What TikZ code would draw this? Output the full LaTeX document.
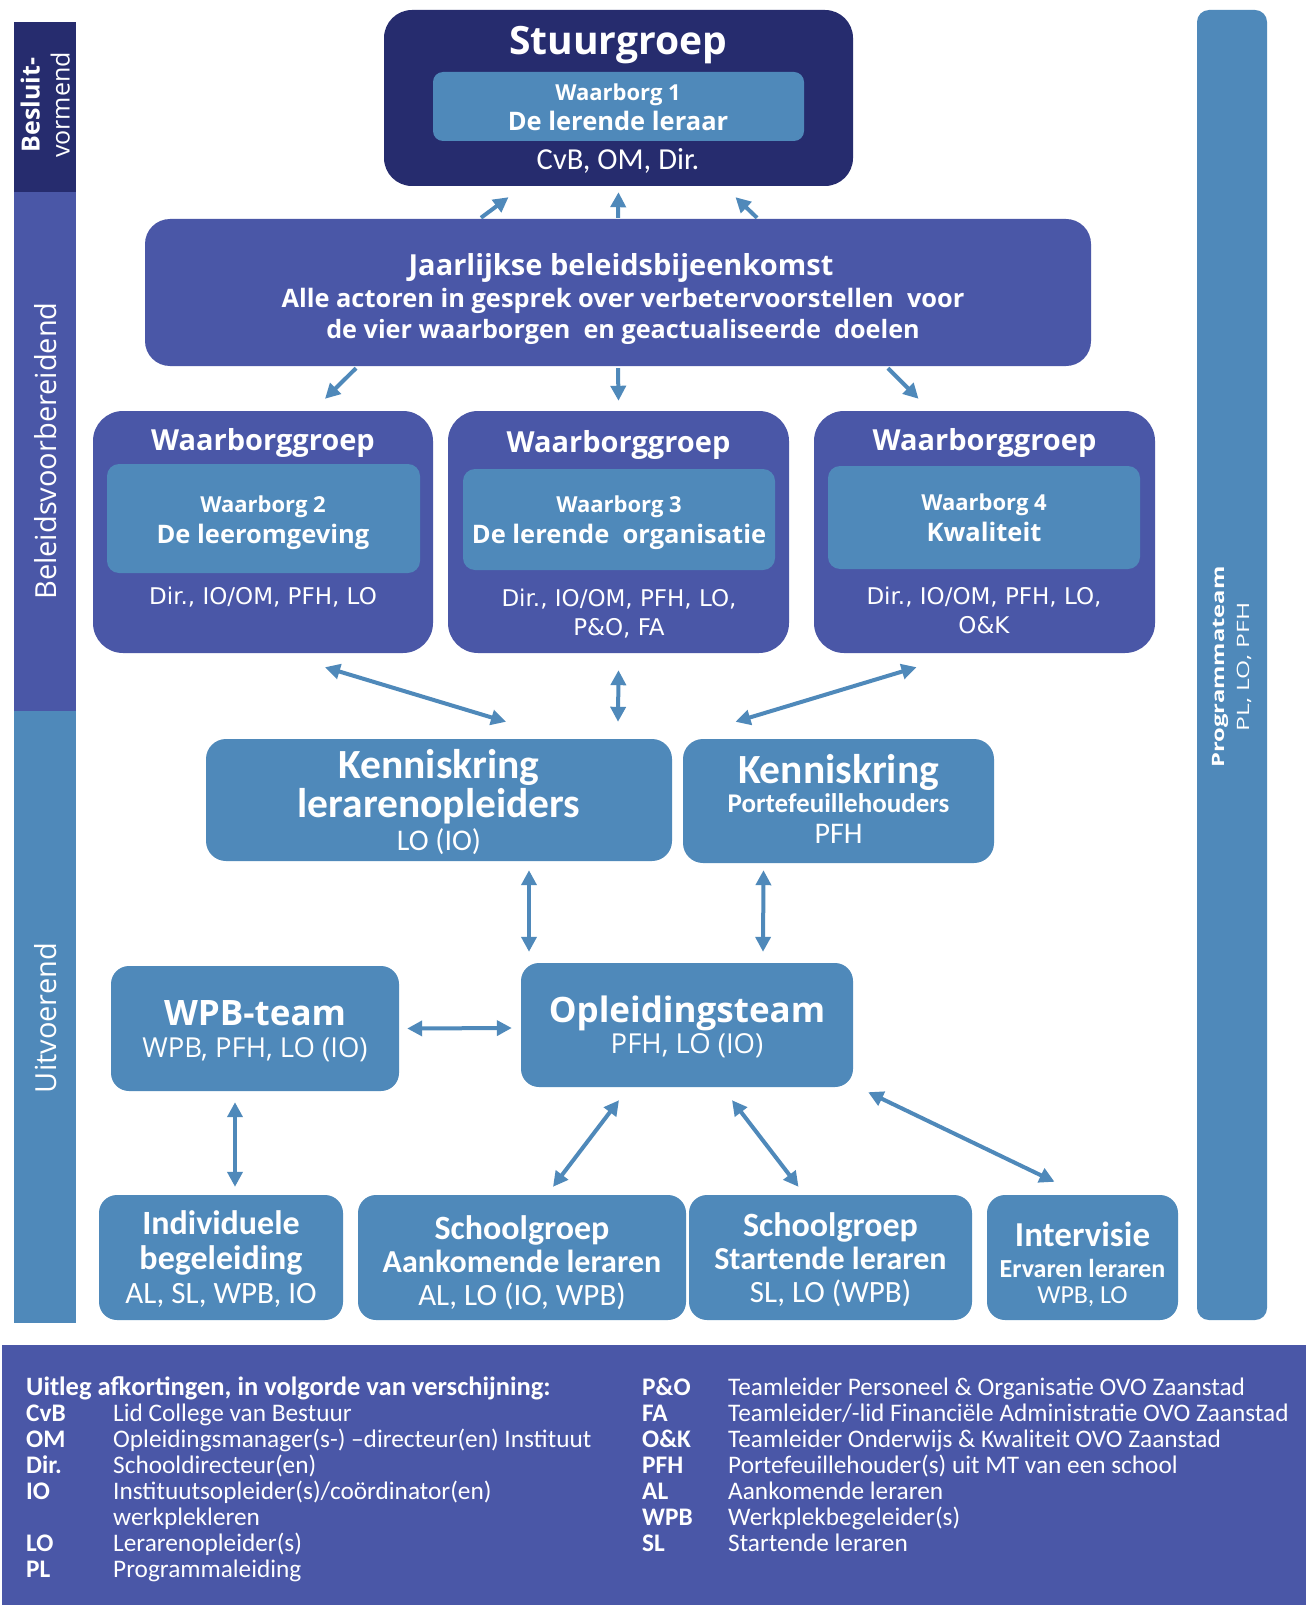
\documentclass[tikz,border=0pt]{standalone}
\usepackage{fontspec}
\setmainfont{Open Sans}
\newfontfamily\cf{Carlito}
\newfontfamily\dv{DejaVu Sans}
\usetikzlibrary{arrows.meta,calc}
\definecolor{navy}{RGB}{38,44,110}
\definecolor{mblue}{RGB}{74,87,167}
\definecolor{lblue}{RGB}{79,137,186}
\newcommand\fz[1]{\fontsize{#1}{#1}\selectfont}
\begin{document}
\begin{tikzpicture}[x=1pt,y=-1pt,
  box/.style={draw=none, rounded corners=#1, inner sep=0pt},
  box/.default=18pt,
  w/.style={text=white, inner sep=0pt, text depth=0pt, align=center},
  leg/.style={text=white, inner sep=0pt, anchor=west, text height=16pt, text depth=0pt, font=\cf\fz{25.3}},
  legb/.style={leg, font=\cf\fz{25.3}\bfseries},
  tipx/.tip={Triangle[length=15pt,width=15pt]},
  one/.style={draw=lblue, line width=4pt, -tipx},
  two/.style={draw=lblue, line width=4pt, tipx-tipx}
]
\useasboundingbox (0,0) rectangle (1306,1605);
\fill[white] (0,0) rectangle (1306,1605);

% left phase bar
\node[fill=navy, minimum width=62pt, minimum height=170pt, inner sep=0pt] (barB) at (45,107) {};
\node[fill=mblue, minimum width=62pt, minimum height=519pt, inner sep=0pt] (barP) at (45,451.5) {};
\node[fill=lblue, minimum width=62pt, minimum height=612pt, inner sep=0pt] (barU) at (45,1017) {};
\node[w, rotate=90, font=\fz{25}\bfseries, text height=17pt] (tB1) at (31,105) {Besluit-};
\node[w, rotate=90, font=\fz{25}, text height=17pt] (tB2) at (61,105) {vormend};
\node[w, rotate=90, font=\fz{29}, text height=21pt] (tP) at (46,451) {Beleidsvoorbereidend};
\node[w, rotate=90, font=\fz{29}, text height=21pt] (tU) at (46,1018) {Uitvoerend};

% right programme bar
\node[box=12pt, fill=lblue, minimum width=70pt, minimum height=1310pt] (prog) at (1232,665) {};
\node[w, rotate=90, font=\fz{17}\bfseries, text height=12pt] (tProg1) at (1218,667) {\scalebox{1.4}[1]{Programmateam}};
\node[w, rotate=90, font=\fz{17}, text height=12pt] (tProg2) at (1243,667) {\scalebox{1.45}[1]{PL, LO, PFH}};

% Stuurgroep
\node[box=28pt, fill=navy, minimum width=469pt, minimum height=176pt] (stuur) at (618.5,98) {};
\node[box=10pt, fill=lblue, minimum width=371pt, minimum height=69pt] (stuurin) at (618.5,106.5) {};
\node[w, font=\fz{39}\bfseries, text height=28pt] (tStuur) at (618,41) {Stuurgroep};
\node[w, font=\fz{22}\bfseries, text height=15pt] (tW1a) at (618,93) {Waarborg 1};
\node[w, font=\fz{25.5}\bfseries, text height=18pt] (tW1b) at (618,122) {De lerende leraar};
\node[w, font=\cf\fz{30.5}, text height=20pt] (tW1c) at (618,160) {CvB, OM, Dir.};

% Jaarlijkse beleidsbijeenkomst
\node[box=25pt, fill=mblue, minimum width=946pt, minimum height=147pt] (jaar) at (618,292.5) {};
\node[w, font=\fz{29}\bfseries, text height=21pt] (tJ1) at (621,265) {Jaarlijkse beleidsbijeenkomst};
\node[w, font=\fz{25.4}\bfseries, text height=18pt] (tJ2) at (623,298) {Alle actoren in gesprek over verbetervoorstellen\ \ voor};
\node[w, font=\fz{25.2}\bfseries, text height=18pt] (tJ3) at (623,329) {de vier waarborgen\ \ en geactualiseerde\ \ doelen};

% Waarborggroepen
\node[box=30pt, fill=mblue, minimum width=340pt, minimum height=242pt] (wg1) at (263,532) {};
\node[box=30pt, fill=mblue, minimum width=341pt, minimum height=242pt] (wg2) at (618.5,532) {};
\node[box=30pt, fill=mblue, minimum width=341pt, minimum height=242pt] (wg3) at (984.5,532) {};
\node[box=12pt, fill=lblue, minimum width=313pt, minimum height=109pt] (in1) at (263.5,518.5) {};
\node[box=12pt, fill=lblue, minimum width=312pt, minimum height=101pt] (in2) at (619,519.5) {};
\node[box=12pt, fill=lblue, minimum width=312pt, minimum height=103pt] (in3) at (984,517.5) {};
\node[w, font=\fz{29}\bfseries, text height=21pt] (tG1) at (263,440) {Waarborggroep};
\node[w, font=\fz{29}\bfseries, text height=21pt] (tG2) at (618.5,442) {Waarborggroep};
\node[w, font=\fz{29}\bfseries, text height=21pt] (tG3) at (984.5,440) {Waarborggroep};
\node[w, font=\fz{22}\bfseries, text height=15pt] (tW2a) at (263,505) {Waarborg 2};
\node[w, font=\fz{25.5}\bfseries, text height=18pt] (tW2b) at (263,534) {De leeromgeving};
\node[w, font=\fz{22}\bfseries, text height=15pt] (tW3a) at (619,505) {Waarborg 3};
\node[w, font=\fz{25.5}\bfseries, text height=18pt] (tW3b) at (619,534) {De lerende\ \ organisatie};
\node[w, font=\fz{22}\bfseries, text height=15pt] (tW4a) at (984,503) {Waarborg 4};
\node[w, font=\fz{25.5}\bfseries, text height=18pt] (tW4b) at (984,532) {Kwaliteit};
\node[w, font=\dv\fz{23}, text height=16pt] (tM2) at (263,596) {Dir., IO/OM, PFH, LO};
\node[w, font=\dv\fz{23}, text height=16pt] (tM3a) at (619,598) {Dir., IO/OM, PFH, LO,};
\node[w, font=\dv\fz{23}, text height=16pt] (tM3b) at (619,627) {P\&O, FA};
\node[w, font=\dv\fz{23}, text height=16pt] (tM4a) at (984,596) {Dir., IO/OM, PFH, LO,};
\node[w, font=\dv\fz{23}, text height=16pt] (tM4b) at (984,625) {O\&K};

% Kenniskringen
\node[box=20pt, fill=lblue, minimum width=466pt, minimum height=122pt] (kl) at (439,800) {};
\node[box=20pt, fill=lblue, minimum width=311pt, minimum height=124pt] (kp) at (838.5,801) {};
\node[w, font=\cf\fz{41.5}\bfseries, text height=27pt] (tK1) at (439,765) {Kenniskring};
\node[w, font=\cf\fz{41.5}\bfseries, text height=27pt] (tK2) at (439,804) {lerarenopleiders};
\node[w, font=\cf\fz{30}, text height=19pt] (tK3) at (439,841) {LO (IO)};
\node[w, font=\cf\fz{41.5}\bfseries, text height=27pt] (tK4) at (838.5,770) {Kenniskring};
\node[w, font=\cf\fz{27}\bfseries, text height=17pt] (tK5) at (838.5,804) {Portefeuillehouders};
\node[w, font=\cf\fz{30}, text height=19pt] (tK6) at (838.5,834) {PFH};

% WPB-team and Opleidingsteam
\node[box=18pt, fill=lblue, minimum width=288pt, minimum height=125pt] (wpb) at (255,1028.5) {};
\node[box=18pt, fill=lblue, minimum width=332pt, minimum height=124pt] (opl) at (687,1025) {};
\node[w, font=\fz{35}\bfseries, text height=25pt] (tWp1) at (255,1013) {WPB-team};
\node[w, font=\fz{27.5}, text height=19pt] (tWp2) at (255,1048) {WPB, PFH, LO (IO)};
\node[w, font=\fz{35}\bfseries, text height=25pt] (tOp1) at (687,1010) {Opleidingsteam};
\node[w, font=\fz{27.5}, text height=19pt] (tOp2) at (687,1044) {PFH, LO (IO)};

% bottom groups
\node[box=18pt, fill=lblue, minimum width=244pt, minimum height=125pt] (ind) at (221,1257.5) {};
\node[box=18pt, fill=lblue, minimum width=328pt, minimum height=125pt] (sga) at (522,1257.5) {};
\node[box=18pt, fill=lblue, minimum width=283pt, minimum height=125pt] (sgs) at (830.5,1257.5) {};
\node[box=18pt, fill=lblue, minimum width=191pt, minimum height=125pt] (intv) at (1082.5,1257.5) {};
\node[w, font=\cf\fz{34}\bfseries, text height=22pt] (tI1) at (221,1223) {Individuele};
\node[w, font=\cf\fz{34}\bfseries, text height=22pt] (tI2) at (221,1258) {begeleiding};
\node[w, font=\cf\fz{31}, text height=20pt] (tI3) at (221,1293) {AL, SL, WPB, IO};
\node[w, font=\cf\fz{34}\bfseries, text height=22pt] (tA1) at (522,1228) {Schoolgroep};
\node[w, font=\cf\fz{32}\bfseries, text height=21pt] (tA2) at (522,1262) {Aankomende leraren};
\node[w, font=\cf\fz{31}, text height=20pt] (tA3) at (522,1295) {AL, LO (IO, WPB)};
\node[w, font=\cf\fz{34}\bfseries, text height=22pt] (tS1) at (830.5,1225) {Schoolgroep};
\node[w, font=\cf\fz{32}\bfseries, text height=21pt] (tS2) at (830.5,1259) {Startende leraren};
\node[w, font=\cf\fz{31}, text height=20pt] (tS3) at (830.5,1292) {SL, LO (WPB)};
\node[w, font=\cf\fz{35}\bfseries, text height=22pt] (tV1) at (1082.5,1235) {Intervisie};
\node[w, font=\cf\fz{26}\bfseries, text height=17pt] (tV2) at (1082.5,1269) {Ervaren leraren};
\node[w, font=\cf\fz{26}, text height=17pt] (tV3) at (1082.5,1295) {WPB, LO};

% connectors
\draw[one] ($(jaar.north)+(-137,-1)$) -- ($(stuur.south)+(-110,11)$);
\draw[one] ($(jaar.north)+(0,-1)$) -- ($(stuur.south)+(0,6)$);
\draw[one] ($(jaar.north)+(139,-1)$) -- ($(stuur.south)+(117,11)$);
\draw[one] ($(jaar.south)+(-262,2)$) -- ($(wg1.north)+(62,-12)$);
\draw[one] ($(jaar.south)+(0,2)$) -- ($(wg2.north)+(0,-10)$);
\draw[one] ($(jaar.south)+(270,2)$) -- ($(wg3.north)+(-66,-12)$);
\draw[two] ($(wg1.south)+(62,14)$) -- ($(kl.north)+(67,-17)$);
\draw[two] ($(wg2.south)+(0,17)$) -- ($(kl.north)+(179,-17)$);
\draw[two] ($(wg3.south)+(-68,14)$) -- ($(kp.north)+(-103,-17)$);
\draw[two] ($(kl.south)+(90,9)$) -- ($(opl.north)+(-158,-11)$);
\draw[two] ($(kp.south)+(-75,7)$) -- ($(opl.north)+(76,-11)$);
\draw[two] ($(wpb.east)+(8,0)$) -- ($(opl.west)+(-9,3)$);
\draw[two] ($(wpb.south)+(-20,11)$) -- ($(ind.north)+(14,-8)$);
\draw[two] ($(opl.south)+(-68,13)$) -- ($(sga.north)+(31,-8)$);
\draw[two] ($(opl.south)+(45,13)$) -- ($(sgs.north)+(-32,-8)$);
\draw[two] ($(opl.south east)+(15,5)$) -- ($(intv.north)+(-28,-13)$);

% legend
\node[fill=mblue, minimum width=1304pt, minimum height=260pt, inner sep=0pt] (legend) at (654,1475) {};
\node[legb, font=\cf\fz{26.5}\bfseries] (lh) at (26,1387) {Uitleg afkortingen,\ in volgorde van verschijning:};
\node[legb] (la1) at (26,1413) {CvB};  \node[leg] (ld1) at (113,1413) {Lid College van Bestuur};
\node[legb] (la2) at (26,1439) {OM};   \node[leg] (ld2) at (113,1439) {Opleidingsmanager(s-) –directeur(en) Instituut};
\node[legb] (la3) at (26,1465) {Dir.}; \node[leg] (ld3) at (113,1465) {Schooldirecteur(en)};
\node[legb] (la4) at (26,1491) {IO};   \node[leg] (ld4) at (113,1491) {Instituutsopleider(s)/coördinator(en)};
\node[leg] (ld4b) at (113,1517) {werkplekleren};
\node[legb] (la5) at (26,1543) {LO};   \node[leg] (ld5) at (113,1543) {Lerarenopleider(s)};
\node[legb] (la6) at (26,1569) {PL};   \node[leg] (ld6) at (113,1569) {Programmaleiding};
\node[legb] (ra1) at (642,1387) {P\&O}; \node[leg] (rd1) at (728,1387) {Teamleider Personeel \& Organisatie OVO Zaanstad};
\node[legb] (ra2) at (642,1413) {FA};   \node[leg] (rd2) at (728,1413) {Teamleider/-lid Financiële Administratie OVO Zaanstad};
\node[legb] (ra3) at (642,1439) {O\&K}; \node[leg] (rd3) at (728,1439) {Teamleider Onderwijs \& Kwaliteit OVO Zaanstad};
\node[legb] (ra4) at (642,1465) {PFH};  \node[leg] (rd4) at (728,1465) {Portefeuillehouder(s)\ uit MT van een school};
\node[legb] (ra5) at (642,1491) {AL};   \node[leg] (rd5) at (728,1491) {Aankomende leraren};
\node[legb] (ra6) at (642,1517) {WPB};  \node[leg] (rd6) at (728,1517) {Werkplekbegeleider(s)};
\node[legb] (ra7) at (642,1543) {SL};   \node[leg] (rd7) at (728,1543) {Startende leraren};
\end{tikzpicture}
\end{document}
